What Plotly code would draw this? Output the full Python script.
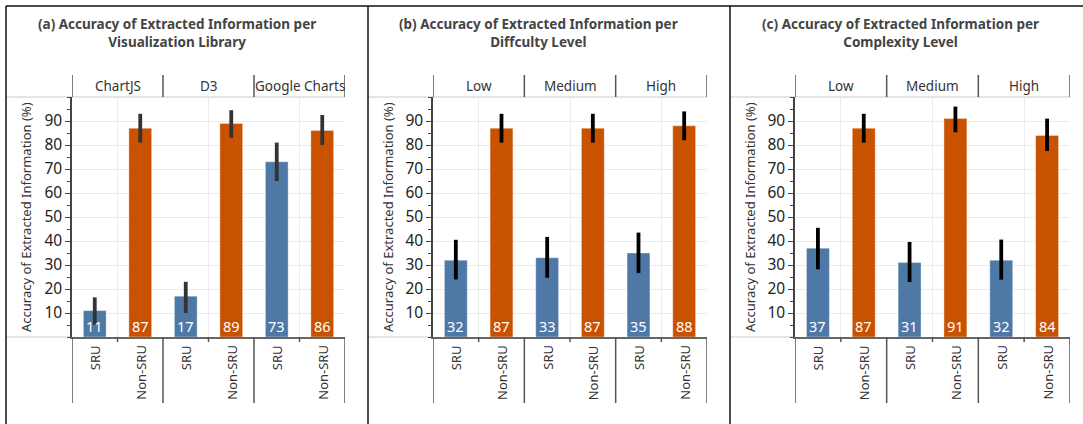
import plotly.graph_objects as go

# ---------------- data ----------------
titles = [
    "(a) Accuracy of Extracted Information per<br>Visualization Library",
    "(b) Accuracy of Extracted Information per<br>Diffculty Level",
    "(c) Accuracy of Extracted Information per<br>Complexity Level",
]
groups_a = ["ChartJS", "D3", "Google Charts"]
groups_b = ["Low", "Medium", "High"]
groups_c = ["Low", "Medium", "High"]
bar_names = ["SRU", "Non-SRU"]

sru_a = [11, 17, 73]
non_a = [87, 89, 86]
sru_a_lo = [5, 10, 65]
sru_a_hi = [16.5, 23, 81]
non_a_lo = [81, 83, 80]
non_a_hi = [93, 94.5, 92.5]

sru_b = [32, 33, 35]
non_b = [87, 87, 88]
sru_b_lo = [24, 24.7, 26.7]
sru_b_hi = [40.5, 41.7, 43.5]
non_b_lo = [81, 81, 82]
non_b_hi = [93, 93, 94]

sru_c = [37, 31, 32]
non_c = [87, 91, 84]
sru_c_lo = [28.2, 22.9, 23.9]
sru_c_hi = [45.5, 39.6, 40.6]
non_c_lo = [81, 85.3, 77.5]
non_c_hi = [93, 96, 91]

y_ticks = [10, 20, 30, 40, 50, 60, 70, 80, 90]
y_title = "Accuracy of Extracted Information (%)"

# ---------------- layout geometry (pixels) ----------------
W, H = 1083, 424
FONT = "Noto Sans, Open Sans, sans-serif"
BLUE = "#4E79A7"
ORANGE = "#C85200"
GRID = "#ebebeb"
TXT = "#333333"

panels = [
    dict(groups=groups_a, sru=sru_a, non=non_a, slo=sru_a_lo, shi=sru_a_hi,
         nlo=non_a_lo, nhi=non_a_hi, px0=72, px1=345, border=6, ecol="#333333"),
    dict(groups=groups_b, sru=sru_b, non=non_b, slo=sru_b_lo, shi=sru_b_hi,
         nlo=non_b_lo, nhi=non_b_hi, px0=433, px1=707, border=368, ecol="#000000"),
    dict(groups=groups_c, sru=sru_c, non=non_c, slo=sru_c_lo, shi=sru_c_hi,
         nlo=non_c_lo, nhi=non_c_hi, px0=795, px1=1070, border=730, ecol="#000000"),
]

PT, PB = 97, 337          # plot top / bottom (px)
HDR_T = 75                # header row top
BOT_B = 403               # bottom label column bottom


def fx(px):
    return px / W


def fy(py):
    return 1 - py / H


fig = go.Figure()
shapes = []
annotations = []

for i, p in enumerate(panels):
    n = i + 1
    xa = "x" if n == 1 else f"x{n}"
    ya = "y" if n == 1 else f"y{n}"
    xk = "xaxis" if n == 1 else f"xaxis{n}"
    yk = "yaxis" if n == 1 else f"yaxis{n}"
    ng = len(p["groups"])
    xs_sru = [2 * g for g in range(ng)]
    xs_non = [2 * g + 1 for g in range(ng)]

    for xs, vals, lo, hi, col, nm in [
        (xs_sru, p["sru"], p["slo"], p["shi"], BLUE, bar_names[0]),
        (xs_non, p["non"], p["nlo"], p["nhi"], ORANGE, bar_names[1]),
    ]:
        fig.add_trace(go.Bar(
            x=xs, y=vals, width=0.5, xaxis=xa, yaxis=ya, name=nm,
            marker=dict(color=col, line=dict(color="rgba(255,255,255,0.35)", width=1)),
            error_y=dict(type="data", symmetric=False,
                         array=[h - v for h, v in zip(hi, vals)],
                         arrayminus=[v - l for l, v in zip(lo, vals)],
                         thickness=3.8, width=0, color=p["ecol"]),
            showlegend=False, hoverinfo="skip",
        ))
        for x, v in zip(xs, vals):
            annotations.append(dict(x=x, y=0, xref=xa, yref=ya, text=str(v),
                                    showarrow=False, yanchor="middle", yshift=11,
                                    font=dict(family=FONT, size=14.5, color="white")))

    fig.layout[xk] = dict(
        domain=[fx(p["px0"]), fx(p["px1"])], range=[-0.5, 2 * ng - 0.5],
        anchor=ya, tickvals=[2 * g + 0.5 for g in range(ng)], showticklabels=False,
        showgrid=True, gridcolor=GRID, gridwidth=1, zeroline=False,
        showline=True, linecolor="#666666", linewidth=1.5, ticks="", fixedrange=True,
    )
    fig.layout[yk] = dict(
        domain=[fy(PB), fy(PT)], range=[0, 100], anchor=xa,
        tickvals=y_ticks, ticktext=[str(t) for t in y_ticks],
        showgrid=True, gridcolor=GRID, gridwidth=1, zeroline=False,
        showline=True, linecolor="#444444", linewidth=1.5,
        ticks="outside", ticklen=5, tickcolor="#444444", tickwidth=1,
        minor=dict(dtick=5, tick0=0, ticks="outside", ticklen=3,
                   tickcolor="#444444", showgrid=False),
        tickfont=dict(family=FONT, size=15.5, color="#222222"), fixedrange=True,
    )

    # title
    annotations.append(dict(x=fx(p["px0"] + 105), y=fy(33), xref="paper", yref="paper",
                            text="<b>" + titles[i] + "</b>", showarrow=False,
                            xanchor="center", yanchor="middle",
                            font=dict(family=FONT, size=13.5, color="#444444")))
    # y axis title
    annotations.append(dict(x=fx(p["border"] + 20), y=fy(217), xref="paper", yref="paper",
                            text=y_title, textangle=-90, showarrow=False,
                            xanchor="center", yanchor="middle",
                            font=dict(family=FONT, size=13, color=TXT)))
    # group headers
    for g, name in enumerate(p["groups"]):
        annotations.append(dict(x=2 * g + 0.5, y=fy(86.5), xref=xa, yref="paper",
                                text=name, showarrow=False, xanchor="center", yanchor="middle",
                                font=dict(family=FONT, size=13.5, color=TXT)))
        for k, bn in enumerate(bar_names):
            annotations.append(dict(x=2 * g + k, y=fy(PB + 6), xref=xa, yref="paper",
                                    text=bn, textangle=-90, showarrow=False,
                                    xanchor="center", yanchor="top",
                                    font=dict(family=FONT, size=13, color=TXT)))
    # header & bottom dividers at group boundaries
    for g in range(ng + 1):
        xb = 2 * g - 0.5
        shapes.append(dict(type="line", xref=xa, yref="paper", x0=xb, x1=xb,
                           y0=fy(HDR_T), y1=fy(PT), line=dict(color="#555555", width=1.5)))
        shapes.append(dict(type="line", xref=xa, yref="paper", x0=xb, x1=xb,
                           y0=fy(PB), y1=fy(BOT_B), line=dict(color="#555555", width=1.5)))
    for g in range(ng):
        xm = 2 * g + 0.5
        shapes.append(dict(type="line", xref=xa, yref="paper", x0=xm, x1=xm,
                           y0=fy(PB), y1=fy(PB + 5), line=dict(color="#555555", width=1.5)))
    # light pane lines
    shapes.append(dict(type="line", xref="paper", yref="paper", x0=fx(p["border"]),
                       x1=fx(p["px1"]), y0=fy(PT), y1=fy(PT),
                       line=dict(color="#dddddd", width=1.5), layer="below"))
    shapes.append(dict(type="line", xref="paper", yref="paper", x0=fx(p["border"]),
                       x1=fx(p["px0"]), y0=fy(PB), y1=fy(PB),
                       line=dict(color="#dddddd", width=1.5), layer="below"))
    # panel left border
    shapes.append(dict(type="line", xref="paper", yref="paper", x0=fx(p["border"]),
                       x1=fx(p["border"]), y0=fy(6), y1=0,
                       line=dict(color="#111111", width=1.5)))

# top border
shapes.append(dict(type="line", xref="paper", yref="paper", x0=fx(6), x1=1,
                   y0=fy(6), y1=fy(6), line=dict(color="#111111", width=1.5)))

fig.update_layout(
    width=W, height=H, margin=dict(l=0, r=0, t=0, b=0),
    paper_bgcolor="white", plot_bgcolor="white",
    shapes=shapes, annotations=annotations, barmode="overlay",
    font=dict(family=FONT, color=TXT),
)

fig.write_html("out.html", config={"displayModeBar": False},
               post_script="document.body.style.margin='0';document.body.style.padding='0';")
